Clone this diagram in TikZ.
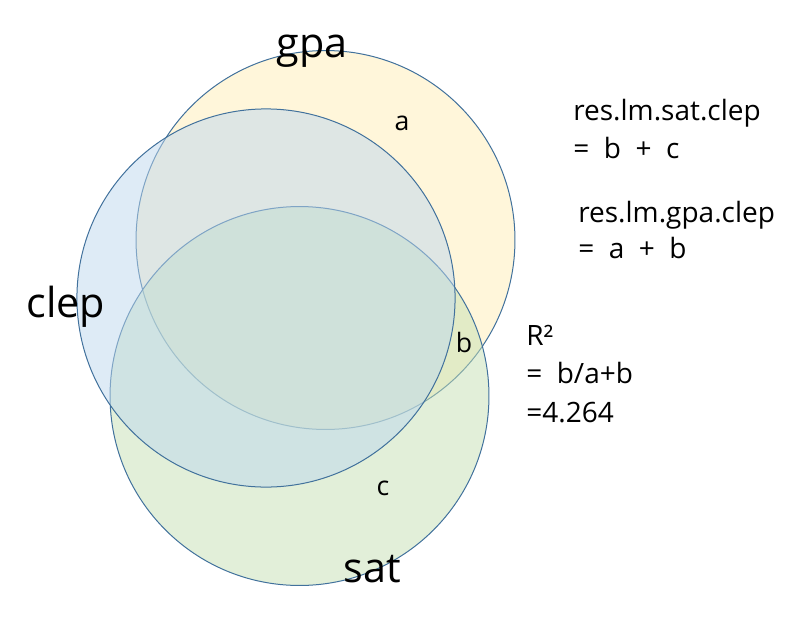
\documentclass[tikz,border=0pt]{standalone}
\usepackage{fontspec}
\setmainfont{Open Sans}
\definecolor{edge}{HTML}{41719C}
\definecolor{gpafill}{HTML}{FFE699}
\definecolor{clepfill}{HTML}{BDD7EE}
\definecolor{satfill}{HTML}{C5E0B4}
\tikzset{
  setcircle/.style={draw=edge, line width=0.75pt, fill opacity=0.5},
  biglabel/.style={inner sep=0pt, anchor=base, font=\fontsize{31}{37}\selectfont},
  smalllabel/.style={inner sep=0pt, anchor=base, font=\fontsize{20}{24}\selectfont},
  sidetext/.style={inner sep=0pt, anchor=base west, font=\fontsize{21}{27}\selectfont},
}
\begin{document}
\begin{tikzpicture}[x=0.75pt, y=-0.75pt]
\useasboundingbox (0,0) rectangle (810,618);
\path[setcircle, fill=gpafill, fill opacity=0.36] (325.5,240) circle[radius=142.1pt];
\path[setcircle, fill=satfill] (299.5,396) circle[radius=142.1pt];
\path[setcircle, fill=clepfill] (266,298) circle[radius=141.8pt];
\node[biglabel] (gpa) at (312,57) {gpa};
\node[biglabel] (clep) at (66,317) {clep};
\node[biglabel] (sat) at (372,582) {sat};
\node[smalllabel] (a) at (402,130) {a};
\node[smalllabel] (b) at (464,352) {b};
\node[smalllabel] (c) at (383,495) {c};
\node[sidetext] (t1) at (573,120) {res.lm.sat.clep};
\node[sidetext] (t2) at (573,158) {=\ \ b\ \ +\ \ c};
\node[sidetext] (t3) at (578,222) {res.lm.gpa.clep};
\node[sidetext] (t4) at (578,258) {=\ \ a\ \ +\ \ b};
\node[sidetext] (r1) at (526,345) {R²};
\node[sidetext] (r2) at (526,383) {=\ \ b/a+b};
\node[sidetext] (r3) at (526,422) {=4.264};
\end{tikzpicture}
\end{document}
